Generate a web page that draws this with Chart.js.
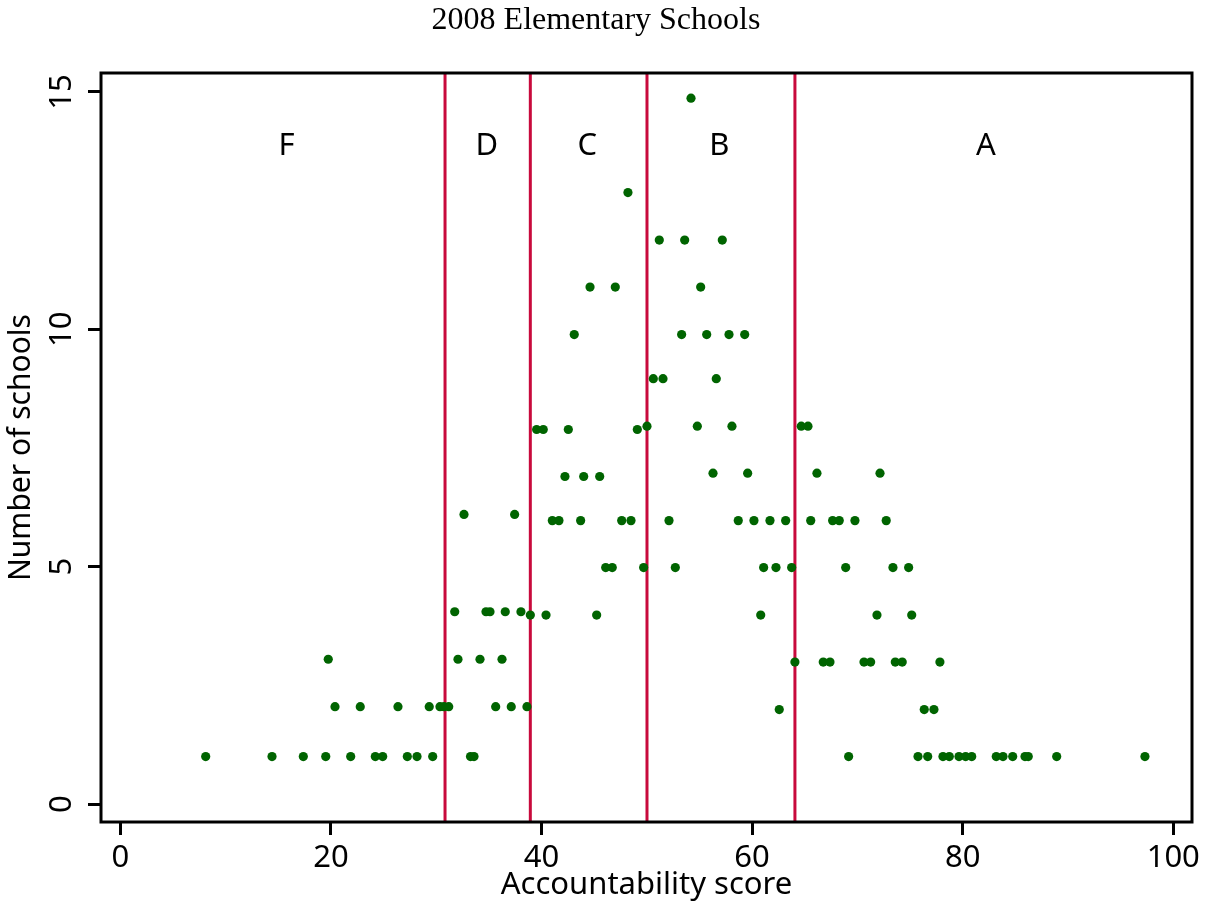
<!DOCTYPE html>
<html lang="en">

<head>
    <meta charset="UTF-8" />
    <title>2008 Elementary Schools</title>
    <script src="https://cdn.jsdelivr.net/npm/chart.js"></script>
    <style>
        html,
        body {
            margin: 0;
            padding: 0;
            background: #fff;
            overflow: hidden;
        }
    </style>
</head>

<body>

    <canvas id="grafico" width="1216" height="907"></canvas>

    <script>
        const titulo = '2008 Elementary Schools';
        const xTicks = [0, 20, 40, 60, 80, 100];
        const yTicks = [0, 5, 10, 15];

        // grade cutoffs (red lines) and the letters between them
        const cutoffs = [30.84, 38.94, 50.02, 64.07];
        const grades = ['F', 'D', 'C', 'B', 'A'];
        const gradeX = [15.8, 34.8, 44.35, 56.9, 82.2];
        const gradeY = 13.67;

        // accountability score of each point, read row by row
        const scores = [
            8.11, 14.41, 17.38, 19.51, 21.88, 24.22, 24.92, 27.26, 28.18, 29.67, 33.26, 33.59,
            69.17, 75.76, 76.68, 78.13, 78.73, 79.65, 80.28, 80.86, 83.19, 83.83, 84.75, 85.92, 86.23, 88.93, 97.31,
            20.39, 22.79, 26.37, 29.34, 30.36, 30.74, 31.19, 35.65, 37.13, 38.62,
            62.58, 76.35, 77.27,
            19.75, 32.07, 34.16, 36.25,
            64.07, 66.76, 67.40, 70.63, 71.26, 73.60, 74.26, 77.84,
            31.76, 34.73, 35.11, 36.56, 38.05,
            38.94, 40.43, 45.24, 60.82, 71.86, 75.16,
            46.10, 46.72, 49.70, 52.71, 61.10, 62.27, 63.76, 68.89, 73.38, 74.87,
            41.03, 41.66, 43.72, 47.62, 48.50, 52.11, 58.69, 60.18, 61.70, 63.19, 65.57, 67.65, 68.28, 69.77, 72.74,
            32.64, 37.45,
            42.23, 44.01, 45.53,
            56.29, 59.58, 66.16, 72.15,
            39.54, 40.17, 42.55, 49.10,
            50.02, 54.80, 58.09, 64.67, 65.31,
            50.62, 51.54, 56.60,
            43.11, 53.31, 55.69, 57.81, 59.30,
            44.61, 47.01, 55.12,
            51.19, 53.60, 57.17,
            48.21,
            54.20
        ];

        // number of schools, same order as scores
        const counts = [
            1.00, 1.00, 1.00, 1.00, 1.00, 1.00, 1.00, 1.00, 1.00, 1.00, 1.00, 1.00,
            1.00, 1.00, 1.00, 1.00, 1.00, 1.00, 1.00, 1.00, 1.00, 1.00, 1.00, 1.00, 1.00, 1.00, 1.00,
            2.05, 2.05, 2.05, 2.05, 2.05, 2.05, 2.05, 2.05, 2.05, 2.05,
            1.99, 1.99, 1.99,
            3.05, 3.05, 3.05, 3.05,
            2.99, 2.99, 2.99, 2.99, 2.99, 2.99, 2.99, 2.99,
            4.05, 4.05, 4.05, 4.05, 4.05,
            3.98, 3.98, 3.98, 3.98, 3.98, 3.98,
            4.98, 4.98, 4.98, 4.98, 4.98, 4.98, 4.98, 4.98, 4.98, 4.98,
            5.97, 5.97, 5.97, 5.97, 5.97, 5.97, 5.97, 5.97, 5.97, 5.97, 5.97, 5.97, 5.97, 5.97, 5.97,
            6.10, 6.10,
            6.90, 6.90, 6.90,
            6.97, 6.97, 6.97, 6.97,
            7.89, 7.89, 7.89, 7.89,
            7.96, 7.96, 7.96, 7.96, 7.96,
            8.96, 8.96, 8.96,
            9.89, 9.89, 9.89, 9.89, 9.89,
            10.89, 10.89, 10.89,
            11.88, 11.88, 11.88,
            12.88,
            14.87
        ];

        const VERDE = '#006400';
        const ROJO = '#c80a3c';
        const SANS = 'Noto Sans';

        const puntos = scores.map((s, i) => ({ x: s, y: counts[i] }));

        const cutoffLines = {
            id: 'cutoffLines',
            beforeDatasetsDraw(chart) {
                const { ctx, chartArea, scales } = chart;
                ctx.save();
                ctx.strokeStyle = ROJO;
                ctx.lineWidth = 3;
                cutoffs.forEach(c => {
                    const px = scales.x.getPixelForValue(c);
                    ctx.beginPath();
                    ctx.moveTo(px, chartArea.top);
                    ctx.lineTo(px, chartArea.bottom);
                    ctx.stroke();
                });
                ctx.restore();
            }
        };

        const gradeLetters = {
            id: 'gradeLetters',
            afterDatasetsDraw(chart) {
                const { ctx, chartArea, scales } = chart;
                ctx.save();
                ctx.fillStyle = '#000';
                ctx.font = '31px "' + SANS + '"';
                ctx.textAlign = 'center';
                ctx.textBaseline = 'alphabetic';
                grades.forEach((g, i) => {
                    ctx.fillText(g, scales.x.getPixelForValue(gradeX[i]), scales.y.getPixelForValue(gradeY));
                });
                // frame round the plot area
                ctx.strokeStyle = '#000';
                ctx.lineWidth = 3;
                ctx.strokeRect(chartArea.left, chartArea.top, chartArea.right - chartArea.left, chartArea.bottom - chartArea.top);
                ctx.restore();
            }
        };

        const ctx = document.getElementById('grafico').getContext('2d');
        const grafico = new Chart(ctx, {
            type: 'scatter',
            data: {
                datasets: [{
                    data: puntos,
                    backgroundColor: VERDE,
                    borderWidth: 0,
                    pointRadius: 4.6,
                    pointHoverRadius: 4.6
                }]
            },
            options: {
                responsive: false,
                animation: false,
                layout: { padding: { left: 0, top: 0, right: 24, bottom: 0 } },
                plugins: {
                    legend: { display: false },
                    tooltip: { enabled: false },
                    title: {
                        display: true,
                        text: titulo,
                        color: '#000',
                        font: { family: 'Liberation Serif', size: 32, weight: 'normal' },
                        padding: { top: 1, bottom: 33.6 }
                    }
                },
                scales: {
                    x: {
                        type: 'linear',
                        min: -1.833,
                        max: 101.78,
                        afterBuildTicks: s => { s.ticks = xTicks.map(v => ({ value: v })); },
                        afterFit: s => { s.height = 85; },
                        border: { display: false },
                        grid: { drawOnChartArea: false, drawTicks: true, tickLength: 13, color: '#000', lineWidth: 3 },
                        ticks: { color: '#000', font: { family: SANS, size: 31 }, padding: 5, maxRotation: 0 },
                        title: {
                            display: true,
                            text: 'Accountability score',
                            color: '#000',
                            font: { family: SANS, size: 31 },
                            padding: { top: 0, bottom: 3 }
                        }
                    },
                    y: {
                        type: 'linear',
                        min: -0.379,
                        max: 15.40,
                        afterBuildTicks: s => { s.ticks = yTicks.map(v => ({ value: v })); },
                        afterFit: s => { s.width = 101; },
                        border: { display: false },
                        grid: { drawOnChartArea: false, drawTicks: true, tickLength: 13, color: '#000', lineWidth: 3 },
                        ticks: {
                            color: '#000',
                            font: { family: SANS, size: 31 },
                            padding: 8,
                            minRotation: 90,
                            maxRotation: 90,
                            crossAlign: 'center'
                        },
                        title: {
                            display: true,
                            text: 'Number of schools',
                            color: '#000',
                            font: { family: SANS, size: 30 },
                            padding: { top: 3, bottom: 0 }
                        }
                    }
                }
            },
            plugins: [cutoffLines, gradeLetters]
        });
    </script>

</body>

</html>
